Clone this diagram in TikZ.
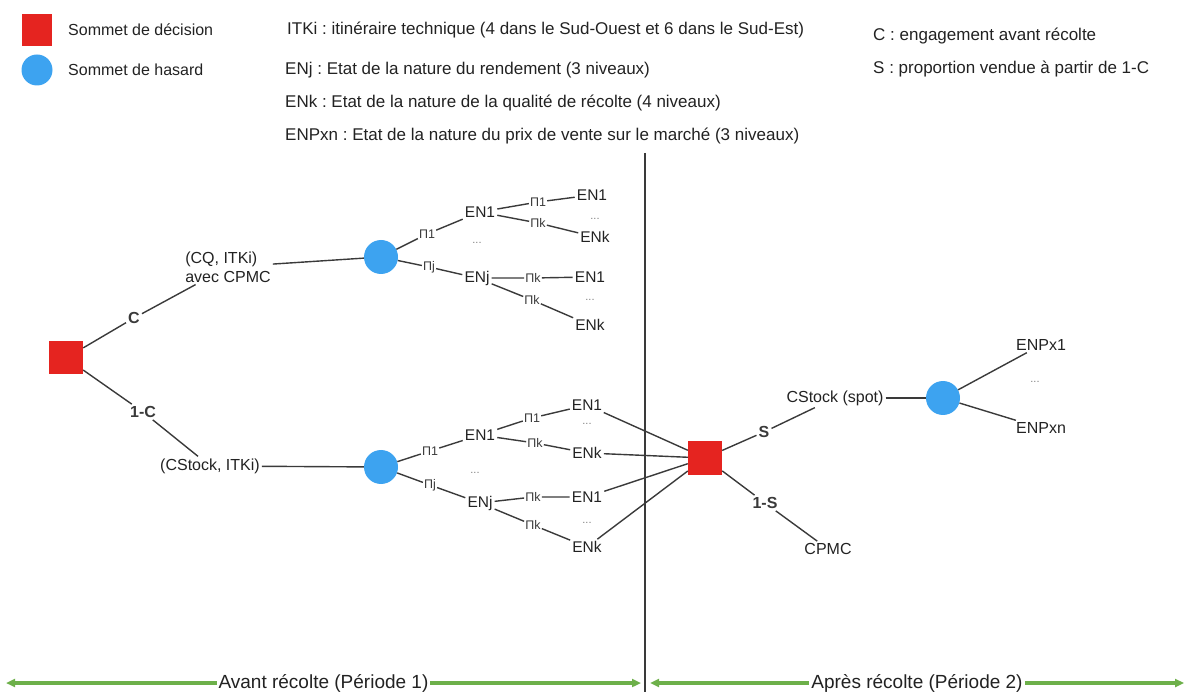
\documentclass[tikz,border=0pt]{standalone}
\usepackage{fontspec}
\setmainfont{Liberation Sans}
\usetikzlibrary{arrows.meta}
\frenchspacing
\definecolor{decred}{HTML}{E52420}
\definecolor{hasblue}{HTML}{3DA3F0}
\definecolor{edgegray}{HTML}{3A3A3A}
\definecolor{txtcol}{HTML}{222222}
\definecolor{periodgreen}{HTML}{6DB04A}
\begin{document}
\begin{tikzpicture}[x=1pt,y=-1pt,
  decnode/.style={rectangle,fill=decred,minimum width=34pt,minimum height=33pt,inner sep=0pt},
  hasnode/.style={circle,fill=hasblue,minimum size=34pt,inner sep=0pt},
  leg/.style={anchor=west,inner sep=0pt,text=txtcol,font=\fontsize{16}{19}\selectfont},
  legb/.style={anchor=west,inner sep=0pt,text=txtcol,font=\fontsize{17}{20}\selectfont},
  txt/.style={inner sep=2pt,text=txtcol,font=\fontsize{16}{19}\selectfont},
  en/.style={inner sep=2pt,text=txtcol,font=\fontsize{15.5}{18}\selectfont},
  pil/.style={inner sep=1pt,text=edgegray,font=\fontsize{12.5}{14}\selectfont},
  blab/.style={inner sep=2pt,text=edgegray,font=\bfseries\fontsize{16}{19}\selectfont},
  dotl/.style={inner sep=0pt,text=gray,font=\fontsize{11}{13}\selectfont},
  edge/.style={draw=edgegray,line width=1.4pt},
  period/.style={draw=periodgreen,line width=3.5pt,dash pattern=on 1.2pt off 0.8pt,{Triangle[length=9pt,width=8pt]}-{Triangle[length=9pt,width=8pt]}},
  plab/.style={fill=white,inner sep=2pt,text=txtcol,font=\fontsize{19}{22}\selectfont}
]
\useasboundingbox (0,0) rectangle (1189,700);

% Legend
\node[decnode,minimum width=30pt,minimum height=32pt] (legdec) at (37,30) {};
\node[leg] (legdect) at (68,30) {Sommet de décision};
\node[hasnode,minimum size=31pt] (leghas) at (37,70) {};
\node[leg] (leghast) at (68,70) {Sommet de hasard};
\node[legb] (l1) at (287,30) {ITKi : itinéraire technique (4 dans le Sud-Ouest et 6 dans le Sud-Est)};
\node[legb] (l2) at (285,70) {ENj : Etat de la nature du rendement (3 niveaux)};
\node[legb] (l3) at (285,103) {ENk : Etat de la nature de la qualité de récolte (4 niveaux)};
\node[legb] (l4) at (285,136) {ENPxn : Etat de la nature du prix de vente sur le marché (3 niveaux)};
\node[legb] (l5) at (873,36) {C : engagement avant récolte};
\node[legb] (l6) at (873,69) {S : proportion vendue à partir de 1-C};

% Divider
\coordinate (vtop) at (645,153);
\coordinate (vbot) at (645,692);
\draw[edge,line width=1.3pt] (vtop) -- (vbot);

% Root
\node[decnode] (sq1) at (66,358) {};
\node[blab] (lC) at (134,318) {C};
\node[txt,align=left] (t1) at (228,267) {(CQ, ITKi)\\avec CPMC};
\node[blab] (l1C) at (143,412) {1-C};
\node[txt] (t2) at (210,466) {(CStock, ITKi)};
\node[hasnode] (c1) at (381,257) {};
\node[hasnode] (c2) at (381,467) {};
\draw[edge] (sq1) -- (lC) -- (t1);
\draw[edge] (t1) -- (c1);
\draw[edge] (sq1) -- (l1C) -- (t2);
\draw[edge] (t2) -- (c2);

% Upper subtree
\node[pil] (u1) at (427,234) {Π1};
\node[en] (a1) at (480,212) {EN1};
\node[dotl] (ud1) at (477,243) {...};
\node[pil] (u2) at (429,267) {Πj};
\node[en] (a2) at (477,278) {ENj};
\draw[edge] (c1) -- (u1) -- (a1);
\draw[edge] (c1) -- (u2) -- (a2);
\node[pil] (u3) at (538,202) {Π1};
\node[en] (b1) at (592,195) {EN1};
\node[dotl] (ud2) at (595,219) {...};
\node[pil] (u4) at (538,223) {Πk};
\node[en] (b2) at (595,237) {ENk};
\draw[edge] (a1) -- (u3) -- (b1);
\draw[edge] (a1) -- (u4) -- (b2);
\node[pil] (u5) at (533,278) {Πk};
\node[en] (b3) at (590,277) {EN1};
\node[dotl] (ud3) at (590,300) {...};
\node[pil] (u6) at (532,300) {Πk};
\node[en] (b4) at (590,325) {ENk};
\draw[edge] (a2) -- (u5) -- (b3);
\draw[edge] (a2) -- (u6) -- (b4);

% Lower subtree
\node[pil] (w1) at (430,451) {Π1};
\node[en] (d1) at (480,435) {EN1};
\node[dotl] (wd1) at (475,473) {...};
\node[pil] (w2) at (430,485) {Πj};
\node[en] (d2) at (480,503) {ENj};
\draw[edge] (c2) -- (w1) -- (d1);
\draw[edge] (c2) -- (w2) -- (d2);
\node[pil] (w3) at (532,418) {Π1};
\node[en] (e1) at (587,405) {EN1};
\node[dotl] (wd2) at (587,424) {...};
\node[pil] (w4) at (535,443) {Πk};
\node[en] (e2) at (587,453) {ENk};
\draw[edge] (d1) -- (w3) -- (e1);
\draw[edge] (d1) -- (w4) -- (e2);
\node[pil] (w5) at (533,497) {Πk};
\node[en] (e3) at (587,497) {EN1};
\node[dotl] (wd3) at (587,523) {...};
\node[pil] (w6) at (533,525) {Πk};
\node[en] (e4) at (587,547) {ENk};
\draw[edge] (d2) -- (w5) -- (e3);
\draw[edge] (d2) -- (w6) -- (e4);

% Second decision
\node[decnode] (sq2) at (705,458) {};
\draw[edge] (e1) -- (sq2);
\draw[edge] (e2) -- (sq2);
\draw[edge] (e3) -- (sq2);
\draw[edge] (e4) -- (sq2);
\node[blab] (lS) at (764,432) {S};
\node[txt] (cs) at (835,398) {CStock (spot)};
\node[hasnode] (c3) at (943,398) {};
\draw[edge] (sq2) -- (lS) -- (cs);
\draw[edge] (cs) -- (c3);
\node[txt] (p1) at (1041,345) {ENPx1};
\node[dotl] (pd) at (1035,382) {...};
\node[txt] (p2) at (1041,428) {ENPxn};
\draw[edge] (c3) -- (p1);
\draw[edge] (c3) -- (p2);
\node[blab] (l1S) at (765,503) {1-S};
\node[txt] (cp) at (828,549) {CPMC};
\draw[edge] (sq2) -- (l1S) -- (cp);

% Periods
\coordinate (pa) at (6,683);
\coordinate (pb) at (641,683);
\coordinate (pc) at (650,683);
\coordinate (pe) at (1184,683);
\draw[period] (pa) -- node[plab] (per1) {Avant récolte (Période 1)} (pb);
\draw[period] (pc) -- node[plab] (per2) {Après récolte (Période 2)} (pe);
\end{tikzpicture}
\end{document}
